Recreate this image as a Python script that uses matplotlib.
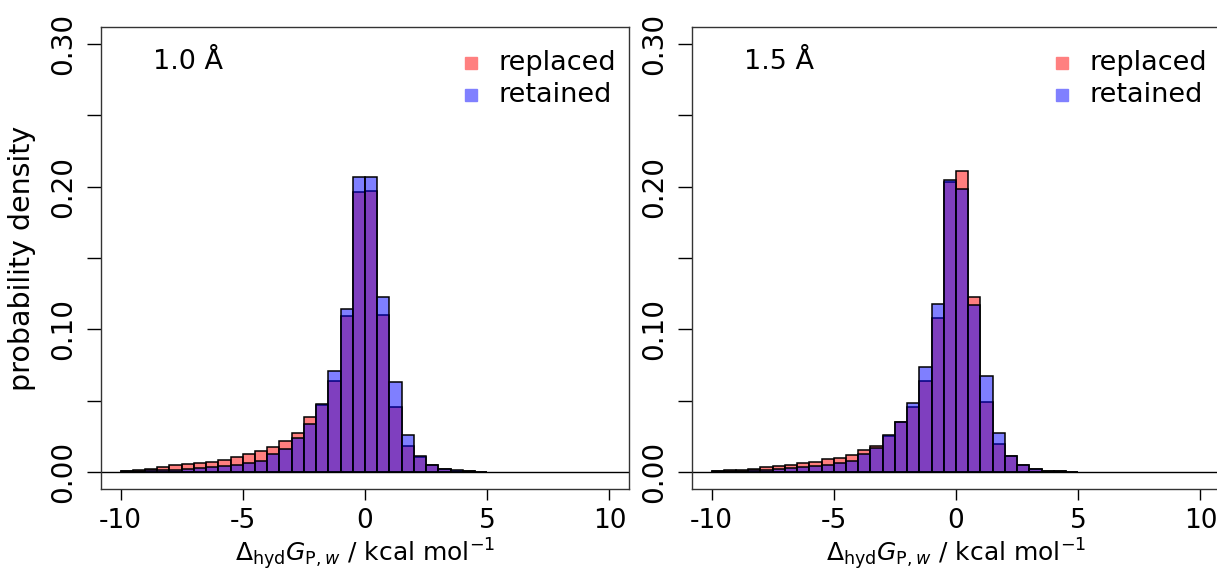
import numpy as np
import matplotlib
matplotlib.use("Agg")
import matplotlib.pyplot as plt

plt.rcParams['font.family'] = ['DejaVu Sans']
plt.rcParams['mathtext.fontset'] = 'dejavusans'

# bin left edges, 0.5 kcal/mol wide
bin_edges = np.arange(-10.0, 5.0, 0.5)
bin_width = 0.5

# 1.0 A cutoff
replaced_10 = [0.0008, 0.0012, 0.0018, 0.0033, 0.0050, 0.0056, 0.0063, 0.0072, 0.0086, 0.0107,
               0.0128, 0.0149, 0.0173, 0.0219, 0.0273, 0.0387, 0.0467, 0.0637, 0.1090, 0.1963,
               0.1968, 0.1102, 0.0457, 0.0184, 0.0105, 0.0048, 0.0021, 0.0009, 0.0004, 0.0002]
retained_10 = [0.0005, 0.0008, 0.0010, 0.0012, 0.0016, 0.0020, 0.0028, 0.0035, 0.0040, 0.0051,
               0.0063, 0.0079, 0.0124, 0.0163, 0.0240, 0.0334, 0.0476, 0.0710, 0.1144, 0.2066,
               0.2066, 0.1223, 0.0630, 0.0257, 0.0110, 0.0051, 0.0023, 0.0010, 0.0005, 0.0002]

# 1.5 A cutoff
replaced_15 = [0.0007, 0.0010, 0.0014, 0.0023, 0.0033, 0.0042, 0.0051, 0.0061, 0.0070, 0.0089,
               0.0100, 0.0119, 0.0154, 0.0184, 0.0250, 0.0348, 0.0455, 0.0637, 0.1078, 0.2035,
               0.2110, 0.1223, 0.0490, 0.0196, 0.0110, 0.0050, 0.0020, 0.0008, 0.0003, 0.0001]
retained_15 = [0.0004, 0.0006, 0.0009, 0.0014, 0.0016, 0.0020, 0.0026, 0.0033, 0.0040, 0.0049,
               0.0061, 0.0079, 0.0124, 0.0168, 0.0257, 0.0348, 0.0481, 0.0735, 0.1174, 0.2049,
               0.1982, 0.1167, 0.0670, 0.0273, 0.0114, 0.0051, 0.0021, 0.0009, 0.0004, 0.0002]

panels = [("1.0 Å", replaced_10, retained_10), ("1.5 Å", replaced_15, retained_15)]
lefts = [101 / 1217, 692 / 1217]

red = (1, 0, 0, 0.5)
blue = (0, 0, 1, 0.5)

fig = plt.figure(figsize=(12.17, 5.72), dpi=100)

for i, (label, rep, ret) in enumerate(panels):
    ax = fig.add_axes([lefts[i], 83 / 572, 528 / 1217, 462 / 572])
    # red first, blue over it -> purple where they overlap
    ax.bar(bin_edges, rep, width=bin_width, align='edge', color=red,
           edgecolor='black', linewidth=1.1)
    ax.bar(bin_edges, ret, width=bin_width, align='edge', color=blue,
           edgecolor='black', linewidth=1.1)
    ax.axhline(0, color='black', linewidth=1.0)

    ax.set_xlim(-10.8, 10.8)
    ax.set_ylim(-0.012, 0.312)
    ax.set_xticks([-10, -5, 0, 5, 10])
    ax.set_xticklabels(['-10', '-5', '0', '5', '10'])
    ax.set_yticks(np.arange(0, 0.31, 0.05))
    ax.set_yticklabels(['0.00', '', '0.10', '', '0.20', '', '0.30'],
                       rotation=90, va='center')
    ax.tick_params(axis='x', length=8, width=1, labelsize=19, pad=6)
    ax.tick_params(axis='y', length=10, width=1, labelsize=20, pad=7)
    for s in ax.spines.values():
        s.set_linewidth(1.0)
        s.set_color('#333333')

    ax.set_xlabel(r'$\Delta_{\rm hyd}G_{\rm P,\mathit{w}}$ / kcal mol$^{-1}$',
                  fontsize=18, labelpad=1)
    if i == 0:
        ax.set_ylabel('probability density', fontsize=20.5, labelpad=10)

    ax.text(0.098, 0.924, label, transform=ax.transAxes, fontsize=19.5,
            ha='left', va='center')

    # legend drawn by hand: colored squares and labels
    for row, (name, col) in enumerate([("replaced", "#ff8080"), ("retained", "#8080ff")]):
        yy = 0.922 - row * 0.070
        ax.plot([0.70], [yy], marker='s', markersize=9, color=col,
                linestyle='none', transform=ax.transAxes)
        ax.text(0.752, yy, name, transform=ax.transAxes, fontsize=19.5,
                ha='left', va='center')

fig.savefig("out.png", dpi=100)
